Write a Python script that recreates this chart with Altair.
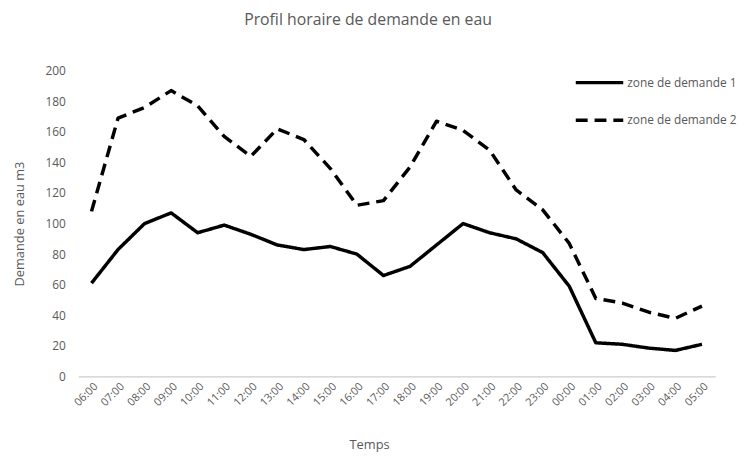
import altair as alt
import pandas as pd

hours = ["06:00", "07:00", "08:00", "09:00", "10:00", "11:00", "12:00", "13:00",
         "14:00", "15:00", "16:00", "17:00", "18:00", "19:00", "20:00", "21:00",
         "22:00", "23:00", "00:00", "01:00", "02:00", "03:00", "04:00", "05:00"]
zone1 = [61, 83, 100, 107, 94, 99, 93, 86, 83, 85, 80, 66,
         72, 86, 100, 94, 90, 81, 59, 22, 21, 18.5, 17, 21]
zone2 = [108, 169, 176, 187, 177, 157, 144, 162, 155, 136, 112, 115,
         137, 167, 161, 148, 122, 109, 87, 51, 48, 42, 38, 46]
series_names = ["zone de demande 1", "zone de demande 2"]

rows = []
for i, h in enumerate(hours):
    rows.append({"Temps": h, "v": zone1[i], "s": series_names[0], "o": i})
    rows.append({"Temps": h, "v": zone2[i], "s": series_names[1], "o": i})
df = pd.DataFrame(rows)

FONT = "Open Sans"
GREY = "#595959"

chart = alt.Chart(df).mark_line(strokeWidth=3.5, color="black", strokeJoin="round").encode(
    x=alt.X("Temps:N", sort=hours, title="Temps",
            scale=alt.Scale(padding=0.5),
            axis=alt.Axis(labelAngle=-45, labelColor=GREY, labelFontSize=11, labelFont=FONT,
                          domainColor="#bfbfbf", domainWidth=1, ticks=False, grid=False,
                          labelPadding=4, titleFont=FONT, titleFontSize=13, titleColor=GREY,
                          titleFontWeight="normal", titlePadding=31, titleX=294)),
    y=alt.Y("v:Q", title="Demande en eau m3",
            scale=alt.Scale(domain=[0, 200]),
            axis=alt.Axis(values=list(range(0, 201, 20)), labelColor=GREY, labelFontSize=12,
                          labelFont=FONT, domain=False, ticks=False, grid=False, labelPadding=13,
                          titleFont=FONT, titleFontSize=13, titleColor=GREY,
                          titleFontWeight="normal", titlePadding=19)),
    strokeDash=alt.StrokeDash("s:N", title=None,
                              scale=alt.Scale(domain=series_names, range=[[1, 0], [12, 7]]),
                              legend=alt.Legend(orient="none", legendX=501, legendY=-14,
                                                symbolType="stroke", symbolSize=2304,
                                                symbolStrokeWidth=3.5, symbolStrokeColor="black",
                                                labelFont=FONT, labelFontSize=12, labelColor=GREY,
                                                rowPadding=5, labelOffset=2, labelLimit=300)),
    order="o:Q",
).properties(
    width=644, height=309,
    title=alt.TitleParams("Profil horaire de demande en eau", font=FONT, fontSize=16,
                          color=GREY, fontWeight="normal", anchor="middle", dx=-29, offset=29),
    autosize=alt.AutoSizeParams(type="none"),
    padding={"left": 71, "top": 61, "right": 22, "bottom": 75},
    background="white",
).configure_view(stroke=None)

chart.save("out.html", embed_options={"renderer": "svg", "actions": False})
